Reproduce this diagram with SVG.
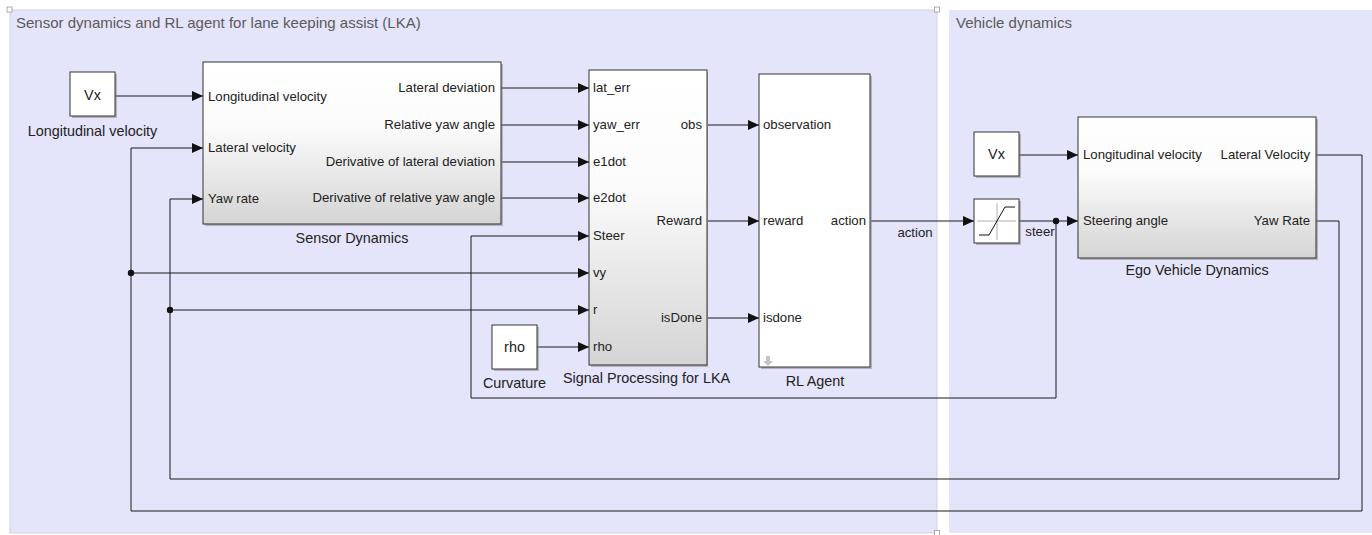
<svg xmlns="http://www.w3.org/2000/svg" width="1372" height="535" viewBox="0 0 1372 535">
<style>
.area{fill:#e4e4fa}
.title{font-family:"Liberation Sans",Arial,sans-serif;font-size:15px;fill:#5a5a5a}
.blk{stroke:#333;stroke-width:1}
.shadow{fill:#8a8a8a;opacity:0.55}
.port{font-family:"Liberation Sans",Arial,sans-serif;font-size:13.2px;fill:#222}
.lbl{font-family:"Liberation Sans",Arial,sans-serif;font-size:14.4px;fill:#222}
.wire{fill:none;stroke:#1a1a1a;stroke-width:1}
.handle{fill:#fff;stroke:#999;stroke-width:0.8}
</style>
<defs>
<linearGradient id="grad" x1="0" y1="0" x2="0" y2="1">
<stop offset="0" stop-color="#ffffff"/>
<stop offset="0.4" stop-color="#fbfbfb"/>
<stop offset="1" stop-color="#d4d4d4"/>
</linearGradient>
<marker id="arr" markerUnits="userSpaceOnUse" markerWidth="12" markerHeight="12" refX="11" refY="6" orient="auto">
<path d="M0,1 L11,6 L0,11 z" fill="#111"/>
</marker>
</defs>

<g id="areas">
<rect class="area" x="10" y="10" width="927" height="523" stroke="#d2d2de" stroke-width="1"/>
<rect class="area" x="949" y="10" width="423" height="523"/>
<rect class="handle" x="7" y="7" width="5" height="5"/>
<rect class="handle" x="934.5" y="7" width="5" height="5"/>
<rect class="handle" x="934.5" y="530.5" width="5" height="5"/>
<text class="title" x="16" y="28">Sensor dynamics and RL agent for lane keeping assist (LKA)</text>
<text class="title" x="956" y="28">Vehicle dynamics</text>
</g>

<g id="connectors">
<path class="wire" d="M115,96 H203" marker-end="url(#arr)"/>
<path class="wire" d="M501,88 H589" marker-end="url(#arr)"/>
<path class="wire" d="M501,125 H589" marker-end="url(#arr)"/>
<path class="wire" d="M501,162 H589" marker-end="url(#arr)"/>
<path class="wire" d="M501,198 H589" marker-end="url(#arr)"/>
<path class="wire" d="M708,125 H759" marker-end="url(#arr)"/>
<path class="wire" d="M708,221 H759" marker-end="url(#arr)"/>
<path class="wire" d="M708,318 H759" marker-end="url(#arr)"/>
<path class="wire" d="M871,221 H974" marker-end="url(#arr)"/>
<path class="wire" d="M1019,221 H1078" marker-end="url(#arr)"/>
<path class="wire" d="M1056,221 V398 H471 V236 H589" marker-end="url(#arr)"/>
<path class="wire" d="M1019,155 H1078" marker-end="url(#arr)"/>
<path class="wire" d="M1316,155 H1362 V511 H131 V148 H203" marker-end="url(#arr)"/>
<path class="wire" d="M131,273 H589" marker-end="url(#arr)"/>
<path class="wire" d="M1316,221 H1339 V479 H170 V199 H203" marker-end="url(#arr)"/>
<path class="wire" d="M170,310 H589" marker-end="url(#arr)"/>
<path class="wire" d="M537,347 H589" marker-end="url(#arr)"/>
<circle cx="1056" cy="221" r="3.2" fill="#111"/>
<circle cx="131" cy="273" r="3.2" fill="#111"/>
<circle cx="170" cy="310" r="3.2" fill="#111"/>
<text class="port" x="915" y="237" text-anchor="middle">action</text>
<text class="port" x="1040" y="236" text-anchor="middle">steer</text>
</g>

<g id="vx_left">
<rect class="shadow" x="72" y="74" width="45" height="44"/>
<rect class="blk" x="70" y="72" width="45" height="44" fill="#fff"/>
<text class="lbl" x="92.5" y="99.5" text-anchor="middle">Vx</text>
<text class="lbl" x="92.5" y="136" text-anchor="middle">Longitudinal velocity</text>
</g>

<g id="sensor_dynamics">
<rect class="shadow" x="205" y="64" width="298" height="162"/>
<rect class="blk" x="203" y="62" width="298" height="162" fill="url(#grad)"/>
<text class="port" x="208" y="101">Longitudinal velocity</text>
<text class="port" x="208" y="152">Lateral velocity</text>
<text class="port" x="208" y="203">Yaw rate</text>
<text class="port" x="495" y="92" text-anchor="end">Lateral deviation</text>
<text class="port" x="495" y="129" text-anchor="end">Relative yaw angle</text>
<text class="port" x="495" y="166" text-anchor="end">Derivative of lateral deviation</text>
<text class="port" x="495" y="202" text-anchor="end">Derivative of relative yaw angle</text>
<text class="lbl" x="352" y="243" text-anchor="middle">Sensor Dynamics</text>
</g>

<g id="signal_processing">
<rect class="shadow" x="591" y="72" width="117" height="295"/>
<rect class="blk" x="589" y="70" width="118" height="295" fill="url(#grad)"/>
<text class="port" x="593" y="92">lat_err</text>
<text class="port" x="593" y="129">yaw_err</text>
<text class="port" x="593" y="166">e1dot</text>
<text class="port" x="593" y="202">e2dot</text>
<text class="port" x="593" y="240">Steer</text>
<text class="port" x="593" y="277">vy</text>
<text class="port" x="593" y="314">r</text>
<text class="port" x="593" y="351">rho</text>
<text class="port" x="702" y="129" text-anchor="end">obs</text>
<text class="port" x="702" y="225" text-anchor="end">Reward</text>
<text class="port" x="702" y="322" text-anchor="end">isDone</text>
<text class="lbl" x="646.5" y="383" text-anchor="middle">Signal Processing for LKA</text>
</g>

<g id="curvature">
<rect class="shadow" x="494" y="327" width="45" height="44"/>
<rect class="blk" x="492" y="325" width="45" height="44" fill="#fff"/>
<text class="lbl" x="514.5" y="352" text-anchor="middle">rho</text>
<text class="lbl" x="514.5" y="388" text-anchor="middle">Curvature</text>
</g>

<g id="rl_agent">
<rect class="shadow" x="761" y="76" width="111" height="293"/>
<rect class="blk" x="759" y="74" width="111" height="293" fill="#fff"/>
<text class="port" x="763" y="129">observation</text>
<text class="port" x="763" y="225">reward</text>
<text class="port" x="763" y="322">isdone</text>
<text class="port" x="866" y="225" text-anchor="end">action</text>
<path d="M766,356 H770 V361 H773 L768,366 L763,361 H766 z" fill="#c4c4c4"/>
<text class="lbl" x="815" y="386" text-anchor="middle">RL Agent</text>
</g>

<g id="saturation">
<rect class="shadow" x="976" y="201" width="45" height="44"/>
<rect class="blk" x="974" y="199" width="45" height="44" fill="#fff"/>
<path d="M997,203 V240 M977,221 H1016" stroke="#b0b0b0" stroke-width="1" fill="none"/>
<path d="M979,235 H989 L1005,207 H1015" stroke="#111" stroke-width="1" fill="none"/>
</g>

<g id="vx_right">
<rect class="shadow" x="976" y="134" width="45" height="44"/>
<rect class="blk" x="974" y="132" width="45" height="44" fill="#fff"/>
<text class="lbl" x="996.5" y="159" text-anchor="middle">Vx</text>
</g>

<g id="ego_vehicle">
<rect class="shadow" x="1080" y="119" width="238" height="141"/>
<rect class="blk" x="1078" y="117" width="238" height="141" fill="url(#grad)"/>
<text class="port" x="1083" y="159">Longitudinal velocity</text>
<text class="port" x="1083" y="225">Steering angle</text>
<text class="port" x="1310" y="159" text-anchor="end">Lateral Velocity</text>
<text class="port" x="1310" y="225" text-anchor="end">Yaw Rate</text>
<text class="lbl" x="1197" y="275" text-anchor="middle">Ego Vehicle Dynamics</text>
</g>
</svg>
